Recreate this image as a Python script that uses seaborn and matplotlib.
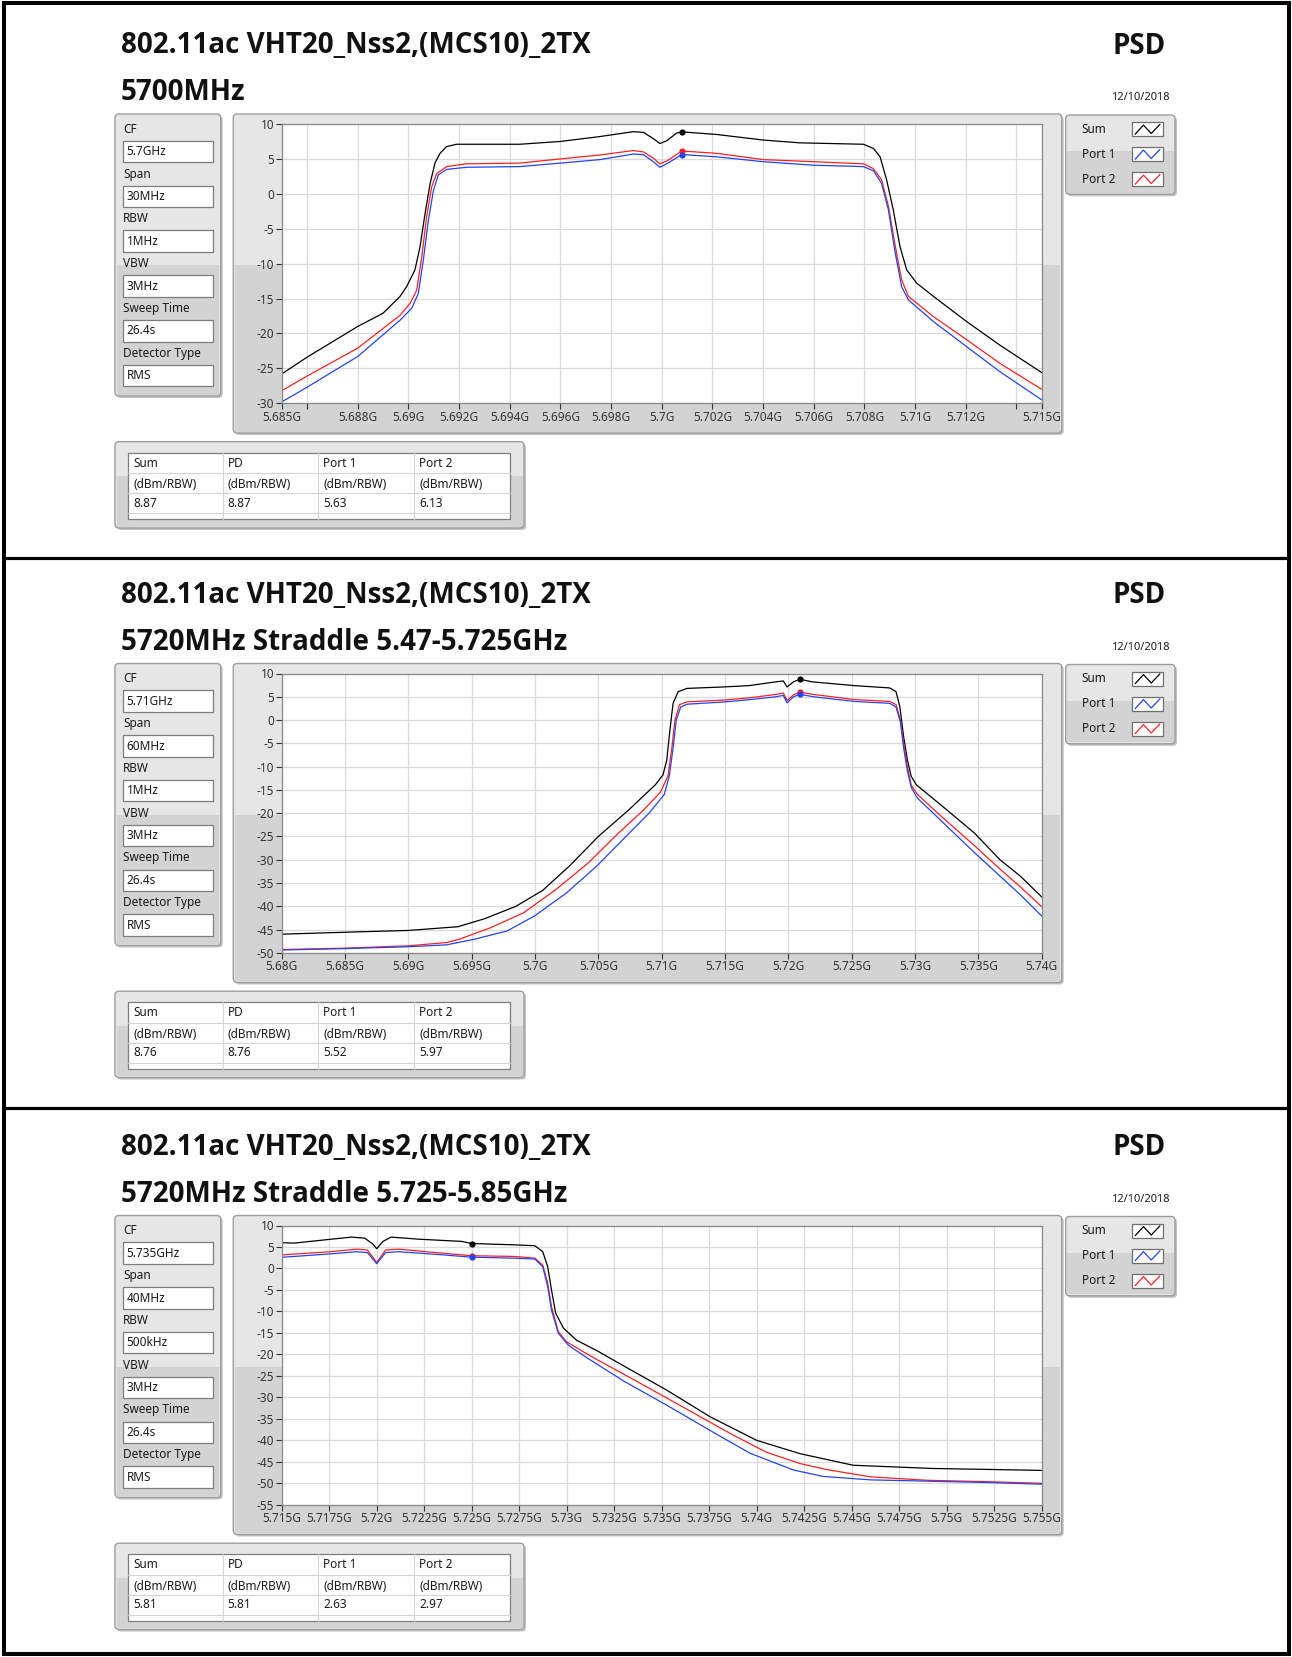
#!/usr/bin/env python3
import matplotlib
matplotlib.use("Agg")
import matplotlib.pyplot as plt
from matplotlib.patches import FancyBboxPatch, Rectangle
import pandas as pd
import seaborn as sns

# ---- data ------------------------------------------------------------------
TITLE = "802.11ac VHT20_Nss2,(MCS10)_2TX"
SUBTITLES = ["5700MHz", "5720MHz Straddle 5.47-5.725GHz", "5720MHz Straddle 5.725-5.85GHz"]
RIGHT_TITLE = "PSD"
DATE = "12/10/2018"

PARAM_NAMES = ["CF", "Span", "RBW", "VBW", "Sweep Time", "Detector Type"]
PARAM_VALUES = [
    ["5.7GHz", "30MHz", "1MHz", "3MHz", "26.4s", "RMS"],
    ["5.71GHz", "60MHz", "1MHz", "3MHz", "26.4s", "RMS"],
    ["5.735GHz", "40MHz", "500kHz", "3MHz", "26.4s", "RMS"],
]

TABLE_HEAD = ["Sum", "PD", "Port 1", "Port 2"]
TABLE_UNIT = "(dBm/RBW)"
TABLE_VALUES = [
    ["8.87", "8.87", "5.63", "6.13"],
    ["8.76", "8.76", "5.52", "5.97"],
    ["5.81", "5.81", "2.63", "2.97"],
]

SERIES_LEGEND_ORDER = ["Sum", "Port 1", "Port 2"]
COLORS = {"Sum": "#000000", "Port 1": "#2244ee", "Port 2": "#ff1f1f"}

Y_LIMITS = [(-30, 10), (-50, 10), (-55, 10)]

P1_TICKS = [5685, 5686, 5688, 5690, 5692, 5694, 5696, 5698, 5700, 5702, 5704,
            5706, 5708, 5710, 5712, 5714, 5715]
P1_LABELS = ["5.685G", "", "5.688G", "5.69G", "5.692G", "5.694G", "5.696G", "5.698G",
             "5.7G", "5.702G", "5.704G", "5.706G", "5.708G", "5.71G", "5.712G", "", "5.715G"]
P2_TICKS = [5680, 5685, 5690, 5695, 5700, 5705, 5710, 5715, 5720, 5725, 5730, 5735, 5740]
P2_LABELS = ["5.68G", "5.685G", "5.69G", "5.695G", "5.7G", "5.705G", "5.71G", "5.715G",
             "5.72G", "5.725G", "5.73G", "5.735G", "5.74G"]
P3_TICKS = [5715, 5717.5, 5720, 5722.5, 5725, 5727.5, 5730, 5732.5, 5735, 5737.5,
            5740, 5742.5, 5745, 5747.5, 5750, 5752.5, 5755]
P3_LABELS = ["5.715G", "5.7175G", "5.72G", "5.7225G", "5.725G", "5.7275G", "5.73G",
             "5.7325G", "5.735G", "5.7375G", "5.74G", "5.7425G", "5.745G", "5.7475G",
             "5.75G", "5.7525G", "5.755G"]

# marker frequency (MHz) per panel; marker levels are the table values
MARKER_MHZ = [5700.8, 5720.9, 5725.0]

# traces: (frequency MHz, level dBm)
P1_SUM = [(5685.0, -25.8), (5686.0, -23.4), (5688.0, -19.0), (5689.0, -17.1), (5689.67, -14.7),
          (5689.93, -13.3), (5690.26, -10.9), (5690.46, -7.6), (5690.66, -2.8), (5690.86, 1.5),
          (5691.05, 4.4), (5691.25, 5.8), (5691.5, 6.75), (5691.9, 7.1), (5694.4, 7.1),
          (5696.0, 7.5), (5697.56, 8.2), (5698.88, 8.9), (5699.28, 8.8), (5699.67, 7.9),
          (5699.93, 7.2), (5700.2, 7.6), (5700.59, 8.7), (5700.8, 8.87), (5702.17, 8.5),
          (5704.01, 7.7), (5705.46, 7.3), (5707.96, 7.1), (5708.36, 6.5), (5708.62, 5.3),
          (5708.88, 2.0), (5709.14, -2.3), (5709.41, -7.6), (5709.67, -10.9), (5710.07, -12.8),
          (5710.73, -14.7), (5712.04, -18.3), (5713.36, -21.7), (5715.0, -25.6)]
P1_PORT2 = [(5685.0, -28.2), (5686.0, -26.1), (5688.0, -22.1), (5689.67, -17.4), (5690.07, -15.7),
            (5690.33, -13.8), (5690.53, -9.0), (5690.72, -3.3), (5690.92, 1.0), (5691.12, 2.9),
            (5691.51, 3.9), (5692.3, 4.3), (5694.4, 4.4), (5696.0, 5.0), (5697.56, 5.56),
            (5698.88, 6.2), (5699.28, 6.0), (5699.67, 5.1), (5699.93, 4.3), (5700.2, 4.7),
            (5700.8, 6.13), (5702.17, 5.8), (5704.01, 4.9), (5705.99, 4.6), (5707.96, 4.3),
            (5708.36, 3.6), (5708.68, 2.0), (5708.95, -1.8), (5709.2, -7.1), (5709.47, -12.3),
            (5709.74, -14.7), (5710.73, -17.6), (5712.04, -20.9), (5713.36, -24.3), (5715.0, -28.0)]
P1_PORT1 = [(5685.0, -29.8), (5686.0, -27.7), (5688.0, -23.3), (5689.67, -18.1), (5690.13, -16.4),
            (5690.39, -14.3), (5690.59, -9.5), (5690.79, -3.8), (5690.99, 0.5), (5691.18, 2.7),
            (5691.51, 3.5), (5692.3, 3.8), (5694.4, 3.9), (5696.0, 4.4), (5697.56, 4.9),
            (5698.88, 5.7), (5699.28, 5.6), (5699.67, 4.6), (5699.93, 3.8), (5700.2, 4.3),
            (5700.8, 5.63), (5702.17, 5.3), (5704.01, 4.6), (5705.99, 4.1), (5707.96, 3.9),
            (5708.36, 3.3), (5708.68, 1.5), (5708.95, -2.3), (5709.2, -8.1), (5709.47, -13.3),
            (5709.74, -15.2), (5710.73, -18.3), (5712.04, -21.9), (5713.36, -25.5), (5715.0, -29.5)]

P2_SUM = [(5680.0, -46.0), (5686.0, -45.5), (5690.0, -45.2), (5693.9, -44.4), (5696.0, -42.7),
          (5698.5, -40.0), (5700.6, -36.6), (5702.7, -31.4), (5705.0, -25.0), (5707.4, -19.3),
          (5709.5, -13.9), (5710.1, -11.8), (5710.4, -8.6), (5710.65, -2.1), (5710.9, 3.6),
          (5711.3, 6.1), (5712.0, 6.8), (5714.8, 7.1), (5716.9, 7.4), (5719.0, 8.2),
          (5719.6, 8.4), (5719.9, 7.1), (5720.4, 8.2), (5720.9, 8.76), (5721.9, 8.2),
          (5725.2, 7.4), (5728.0, 6.9), (5728.5, 6.1), (5728.8, 2.9), (5729.1, -3.6),
          (5729.4, -8.6), (5729.7, -12.1), (5730.1, -13.9), (5732.2, -18.6), (5734.7, -24.3),
          (5736.7, -30.0), (5738.3, -33.5), (5740.0, -38.0)]
P2_PORT2 = [(5680.0, -49.3), (5685.0, -49.0), (5690.0, -48.5), (5693.0, -47.8), (5694.0, -47.1),
            (5696.5, -44.6), (5699.1, -41.4), (5701.65, -36.4), (5704.2, -30.7), (5706.5, -24.5),
            (5708.5, -19.5), (5709.9, -15.5), (5710.5, -12.0), (5710.8, -6.0), (5711.05, 0.0),
            (5711.4, 3.3), (5712.0, 3.9), (5715.0, 4.3), (5717.0, 4.8), (5719.0, 5.5),
            (5719.6, 5.8), (5719.9, 4.2), (5720.4, 5.4), (5720.9, 5.97), (5722.0, 5.5),
            (5725.2, 4.4), (5728.0, 4.0), (5728.5, 3.3), (5728.85, 0.0), (5729.1, -5.0),
            (5729.4, -10.0), (5729.7, -14.0), (5730.2, -16.0), (5732.2, -21.0), (5734.7, -27.0),
            (5736.7, -32.0), (5738.3, -35.8), (5740.0, -40.1)]
P2_PORT1 = [(5680.0, -49.4), (5685.0, -49.1), (5690.0, -48.7), (5693.0, -48.3), (5695.2, -47.1),
            (5697.8, -45.3), (5699.95, -42.1), (5702.5, -37.1), (5704.9, -31.3), (5707.0, -25.5),
            (5709.0, -20.0), (5710.2, -16.0), (5710.6, -12.0), (5710.9, -6.0), (5711.15, 0.0),
            (5711.5, 2.8), (5712.0, 3.4), (5715.0, 3.9), (5717.0, 4.4), (5719.0, 5.0),
            (5719.6, 5.3), (5719.9, 3.7), (5720.4, 5.0), (5720.9, 5.52), (5722.0, 5.0),
            (5725.2, 4.0), (5728.0, 3.6), (5728.5, 2.8), (5728.85, -0.5), (5729.1, -6.0),
            (5729.4, -11.0), (5729.7, -14.5), (5730.2, -16.8), (5732.2, -22.0), (5734.7, -28.5),
            (5736.7, -33.5), (5738.3, -37.5), (5740.0, -42.1)]

P3_SUM = [(5715.0, 6.0), (5715.65, 5.9), (5717.58, 6.8), (5718.68, 7.3), (5719.37, 7.05),
          (5719.79, 5.7), (5720.0, 4.6), (5720.33, 6.3), (5720.75, 7.3), (5722.27, 6.8),
          (5724.47, 6.3), (5725.0, 5.81), (5727.22, 5.5), (5728.32, 5.3), (5728.74, 3.9),
          (5729.0, 0.4), (5729.2, -5.0), (5729.42, -10.4), (5729.83, -13.9), (5730.52, -16.7),
          (5731.62, -19.2), (5732.45, -21.3), (5735.26, -28.3), (5737.54, -34.5), (5740.0, -40.0),
          (5742.28, -43.1), (5745.08, -45.8), (5749.3, -46.55), (5752.6, -46.8), (5755.0, -47.0)]
P3_PORT2 = [(5715.0, 3.16), (5717.58, 3.9), (5718.96, 4.5), (5719.51, 4.3), (5720.0, 1.4),
            (5720.47, 4.3), (5721.16, 4.5), (5723.09, 3.7), (5725.0, 2.97), (5727.22, 2.8),
            (5728.32, 2.4), (5728.74, 0.8), (5729.0, -3.4), (5729.2, -8.9), (5729.56, -14.7),
            (5729.97, -17.0), (5730.8, -19.2), (5731.75, -21.6), (5733.5, -25.8), (5736.14, -32.3),
            (5738.77, -38.8), (5740.53, -42.8), (5742.28, -45.4), (5743.68, -46.8), (5746.0, -48.5),
            (5749.0, -49.3), (5752.0, -49.6), (5755.0, -50.0)]
P3_PORT1 = [(5715.0, 2.6), (5717.58, 3.4), (5718.96, 3.9), (5719.51, 3.7), (5720.0, 1.1),
            (5720.47, 3.7), (5721.16, 3.9), (5723.09, 3.3), (5725.0, 2.63), (5727.22, 2.4),
            (5728.32, 2.2), (5728.74, 0.4), (5729.0, -4.2), (5729.2, -9.7), (5729.56, -15.1),
            (5730.1, -17.9), (5731.07, -20.8), (5733.0, -26.2), (5735.26, -31.8), (5737.9, -38.6),
            (5739.65, -43.0), (5741.93, -46.9), (5743.5, -48.4), (5746.0, -49.2), (5749.0, -49.5),
            (5752.0, -49.8), (5755.0, -50.2)]

TRACES = [
    {"Sum": P1_SUM, "Port 1": P1_PORT1, "Port 2": P1_PORT2},
    {"Sum": P2_SUM, "Port 1": P2_PORT1, "Port 2": P2_PORT2},
    {"Sum": P3_SUM, "Port 1": P3_PORT1, "Port 2": P3_PORT2},
]
TICKS = [(P1_TICKS, P1_LABELS), (P2_TICKS, P2_LABELS), (P3_TICKS, P3_LABELS)]

# ---- layout (pixels of the 1292x1657 screenshot) ----------------------------
W, H = 1292, 1657
PANEL_DY = [0.0, 549.5, 1101.5]
FRAME_LIGHT = "#e6e6e6"
FRAME_DARK = "#d3d3d3"
FRAME_EDGE = "#9d9d9d"
SMALL = 8.5
BIG = 20
BIG_FONT = "Open Sans"


def setup_style():
    sns.set_theme(style="whitegrid")
    plt.rcParams.update({
        "axes.unicode_minus": False,
        "grid.color": "#dadada",
        "grid.linewidth": 0.9,
        "axes.edgecolor": "#8a8a8a",
        "axes.linewidth": 0.9,
        "xtick.color": "#333333",
        "ytick.color": "#333333",
        "text.color": "#1a1a1a",
    })
    plt.rcParams["font.family"] = ["Noto Sans", "DejaVu Sans"]


def rect(ax, x0, y0, x1, y1, fc, ec="none", lw=0.0, r=0.0, z=1):
    if r:
        p = FancyBboxPatch((x0, y0), x1 - x0, y1 - y0,
                           boxstyle=f"round,pad=0,rounding_size={r}",
                           fc=fc, ec=ec, lw=lw, zorder=z)
    else:
        p = Rectangle((x0, y0), x1 - x0, y1 - y0, fc=fc, ec=ec, lw=lw, zorder=z)
    ax.add_patch(p)


def frame_box(ax, x0, y0, x1, y1, split):
    rect(ax, x0 + 2, y0 + 2, x1 + 2, y1 + 2, "#c2c2c2", r=4, z=1)
    rect(ax, x0, y0, x1, y1, FRAME_LIGHT, r=4, z=2)
    rect(ax, x0 + 1.5, split, x1 - 1.5, y1 - 1.5, FRAME_DARK, z=2)
    rect(ax, x0, y0, x1, y1, "none", ec=FRAME_EDGE, lw=1.0, r=4, z=3)


def draw_panel(fig, bg, k):
    dy = PANEL_DY[k]

    # headings
    bg.text(121, 46 + dy, TITLE, family=BIG_FONT, weight="bold", fontsize=BIG,
            ha="left", va="center", color="#111111", zorder=5)
    bg.text(121, 93 + dy, SUBTITLES[k], family=BIG_FONT, weight="bold", fontsize=BIG,
            ha="left", va="center", color="#111111", zorder=5)
    bg.text(1166, 46 + dy, RIGHT_TITLE, family=BIG_FONT, weight="bold", fontsize=BIG,
            ha="right", va="center", color="#111111", zorder=5)
    bg.text(1170, 97.5 + dy, DATE, fontsize=8, ha="right", va="center", zorder=5)

    # parameter column
    frame_box(bg, 115, 114 + dy, 220.7, 396 + dy, 265 + dy)
    for i, (name, val) in enumerate(zip(PARAM_NAMES, PARAM_VALUES[k])):
        ly = 129.3 + i * 44.8 + dy
        bg.text(123, ly, name, fontsize=SMALL, ha="left", va="center", zorder=5)
        rect(bg, 122.7, ly + 11.5, 213.3, ly + 33, "white", ec="#7d7d7d", lw=0.9, z=4)
        bg.text(126.5, ly + 22.5, val, fontsize=SMALL, ha="left", va="center", zorder=5)

    # graph frame
    frame_box(bg, 233.3, 114 + dy, 1061.7, 433 + dy, 265 + dy)

    # legend
    frame_box(bg, 1065.7, 115 + dy, 1175, 194.3 + dy, 151 + dy)
    for i, name in enumerate(SERIES_LEGEND_ORDER):
        ly = 129.3 + i * 25 + dy
        bg.text(1081.7, ly, name, fontsize=SMALL, ha="left", va="center", zorder=5)
        bx0, bx1, by0, by1 = 1132, 1163, ly - 7, ly + 7
        rect(bg, bx0, by0, bx1, by1, "white", ec="#6f6f6f", lw=0.9, z=4)
        fx = [0.1, 0.37, 0.62, 0.9]
        fy = [0.85, 0.2, 0.8, 0.15]
        bg.plot([bx0 + f * (bx1 - bx0) for f in fx], [by0 + f * (by1 - by0) for f in fy],
                color=COLORS[name], lw=0.9, zorder=5)

    # result table
    frame_box(bg, 115, 441.7 + dy, 524, 528 + dy, 476 + dy)
    cols = [128.3, 222.7, 318.3, 414.3, 510]
    rows = [452.7, 473.3, 493.3, 513.3, 519]
    rect(bg, cols[0], rows[0] + dy, cols[-1], rows[-1] + dy, "white", ec="#7d7d7d", lw=0.9, z=4)
    for r_ in rows[1:-1]:
        bg.plot([cols[0], cols[-1]], [r_ + dy, r_ + dy], color="#d4d4d4", lw=0.8, zorder=5)
    for c_ in cols[1:-1]:
        bg.plot([c_, c_], [rows[0] + dy, rows[-1] + dy], color="#d4d4d4", lw=0.8, zorder=5)
    for j in range(4):
        tx = cols[j] + 5
        bg.text(tx, 463.3 + dy, TABLE_HEAD[j], fontsize=SMALL, va="center", zorder=6)
        bg.text(tx, 484.5 + dy, TABLE_UNIT, fontsize=SMALL, va="center", zorder=6)
        bg.text(tx, 503.5 + dy, TABLE_VALUES[k][j], fontsize=SMALL, va="center", zorder=6)

    # spectrum graph
    x0, x1 = 281.7, 1041.7
    y0, y1 = 124 + dy, 403.3 + dy
    ax = fig.add_axes([x0 / W, 1 - y1 / H, (x1 - x0) / W, (y1 - y0) / H])
    ax.set_facecolor("white")
    ticks, labels = TICKS[k]
    for name in ["Sum", "Port 2", "Port 1"]:
        df = pd.DataFrame(TRACES[k][name], columns=["MHz", "dBm"])
        sns.lineplot(data=df, x="MHz", y="dBm", ax=ax, color=COLORS[name], linewidth=0.9,
                     estimator=None, sort=False, legend=False)
    for j, name in [(0, "Sum"), (3, "Port 2"), (2, "Port 1")]:
        sns.scatterplot(x=[MARKER_MHZ[k]], y=[float(TABLE_VALUES[k][j])], ax=ax,
                        color=COLORS[name], s=20, edgecolor=COLORS[name], linewidth=0,
                        zorder=6, legend=False)
    ax.set_xlim(ticks[0], ticks[-1])
    lo, hi = Y_LIMITS[k]
    ax.set_ylim(lo, hi)
    ax.set_xticks(ticks)
    ax.set_xticklabels(labels)
    yt = list(range(lo, hi + 1, 5))
    ax.set_yticks(yt)
    ax.set_yticklabels([str(v) for v in yt])
    ax.set_xlabel("")
    ax.set_ylabel("")
    ax.tick_params(axis="both", which="major", direction="out", length=4, width=0.8,
                   labelsize=SMALL, pad=1.5, left=True, bottom=True)
    ax.grid(True, color="#dadada", linewidth=0.9)
    for sp in ax.spines.values():
        sp.set_color("#8a8a8a")
        sp.set_linewidth(0.9)


def main():
    setup_style()
    fig = plt.figure(figsize=(W / 100, H / 100), dpi=100)
    fig.patch.set_facecolor("white")
    bg = fig.add_axes([0, 0, 1, 1])
    bg.set_xlim(0, W)
    bg.set_ylim(H, 0)
    bg.axis("off")

    for k in range(3):
        draw_panel(fig, bg, k)

    # page frame and separators
    rect(bg, 4, 3, 1289, 1654, "none", ec="black", lw=2.9, z=8)
    for sy in [557.5, 1107.5]:
        bg.plot([4, 1289], [sy, sy], color="black", lw=2.3, zorder=8)

    fig.savefig("out.png", dpi=100, facecolor="white")
    plt.close(fig)


if __name__ == "__main__":
    main()
